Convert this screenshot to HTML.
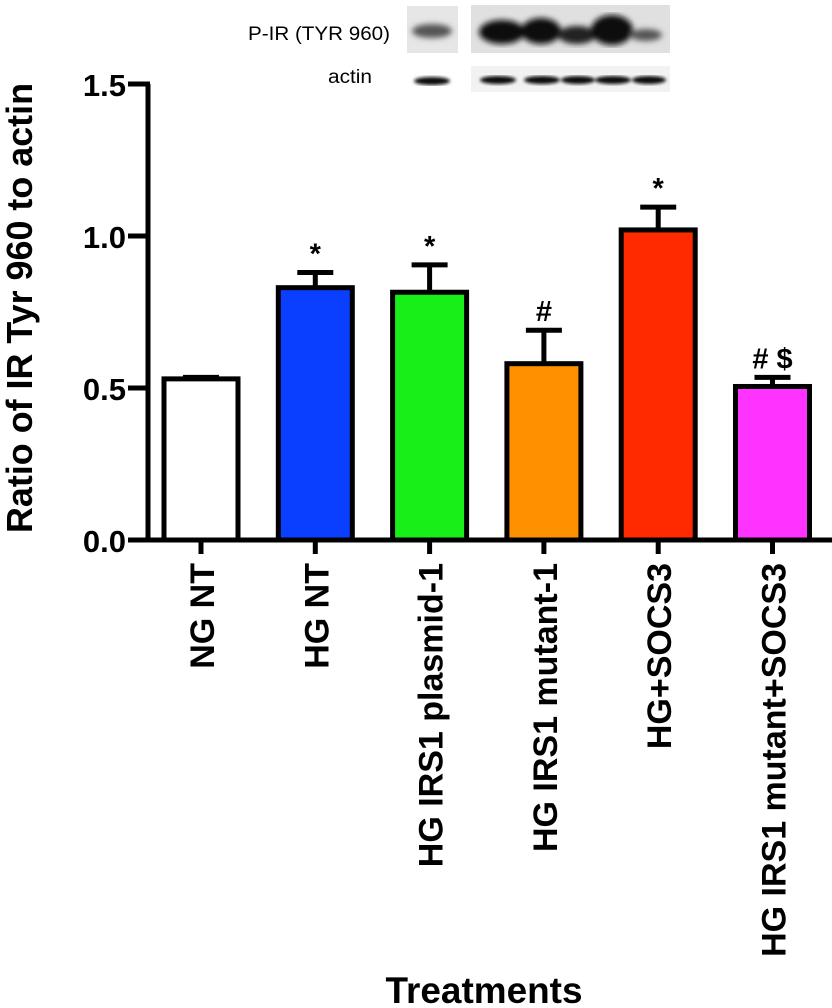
<!DOCTYPE html>
<html><head><meta charset="utf-8"><style>
body{margin:0;background:#fff;width:832px;height:1008px;overflow:hidden;font-family:"Liberation Sans",Arial,sans-serif}
svg{display:block}
</style></head><body>
<svg id="c" width="832" height="1008">
<defs>
<filter id="bl"><feGaussianBlur stdDeviation="3"/></filter>
<filter id="bl2"><feGaussianBlur stdDeviation="1.5"/></filter>
</defs>
<g>
<text x="248" y="40" font-size="19" textLength="142" lengthAdjust="spacingAndGlyphs">P-IR (TYR 960)</text>
<text x="328" y="83" font-size="19" textLength="44" lengthAdjust="spacingAndGlyphs">actin</text>
<rect x="407" y="6" width="51" height="47" fill="#e6e6e6"/>
<rect x="471" y="5" width="199" height="48" fill="#e0e0e0"/>
<rect x="471" y="66" width="199" height="26" fill="#f2f2f2"/>
<g filter="url(#bl)">
<ellipse cx="432" cy="31" rx="20" ry="7" fill="#555"/>
<ellipse cx="502" cy="32" rx="23" ry="12" fill="#111"/>
<ellipse cx="541" cy="31" rx="20" ry="13" fill="#111"/>
<ellipse cx="577" cy="35" rx="19" ry="9" fill="#222"/>
<ellipse cx="612" cy="30" rx="21" ry="15" fill="#0a0a0a"/>
<ellipse cx="646" cy="35" rx="16" ry="6" fill="#555"/>
</g>
<g filter="url(#bl2)">
<ellipse cx="432" cy="81" rx="18" ry="4" fill="#111"/>
<ellipse cx="498" cy="80" rx="18" ry="4" fill="#111"/>
<ellipse cx="542" cy="80" rx="18" ry="4" fill="#111"/>
<ellipse cx="578" cy="80" rx="17" ry="4" fill="#111"/>
<ellipse cx="613" cy="80" rx="18" ry="4" fill="#111"/>
<ellipse cx="649" cy="80" rx="17" ry="4" fill="#111"/>
</g>
</g>
<g id="plot"></g>
<text x="32" y="308" transform="rotate(-90 32 308)" text-anchor="middle" font-size="36" font-weight="bold" textLength="450" lengthAdjust="spacingAndGlyphs">Ratio of IR Tyr 960 to actin</text>
<text x="484" y="1003" text-anchor="middle" font-size="37" font-weight="bold" textLength="197" lengthAdjust="spacingAndGlyphs">Treatments</text>
</svg>
<script>
const categories=["NG NT","HG NT","HG IRS1 plasmid-1","HG IRS1 mutant-1","HG+SOCS3","HG IRS1 mutant+SOCS3"];
const values=[0.53,0.83,0.815,0.58,1.02,0.505];
const errors=[0.005,0.05,0.09,0.11,0.075,0.03];
const colors=["#ffffff","#0b3fff","#18ee18","#ff9000","#ff2a00","#ff33ff"];
const marks=["","*","*","#","*","# $"];
const yTicks=[0,0.5,1.0,1.5];
const yTickLabels=["0.0","0.5","1.0","1.5"];
const NS="http://www.w3.org/2000/svg";
const g=document.getElementById('plot');
const y0=540,pxPer=304,xStart=201,pitch=114.3,bw=74;
const Y=v=>y0-v*pxPer;
const X=i=>xStart+i*pitch;
function mk(t,a){const e=document.createElementNS(NS,t);for(const k in a)e.setAttribute(k,a[k]);g.appendChild(e);return e;}
categories.forEach((c,i)=>{
  const cx=X(i);
  const er=mk('line',{x1:cx,x2:cx,y1:Y(values[i]),y2:Y(values[i]+errors[i]),stroke:'#000','stroke-width':5});
  
  
  const cap=mk('line',{x1:cx-18,x2:cx+18,y1:Y(values[i]+errors[i]),y2:Y(values[i]+errors[i]),stroke:'#000','stroke-width':5});
  
  
  const r=mk('rect',{x:cx-bw/2,y:Y(values[i]),width:bw,height:y0-Y(values[i]),fill:colors[i],stroke:'#000','stroke-width':5});
  
  
  if(marks[i]){const t=mk('text',{x:cx,y:Y(values[i]+errors[i])-9,'text-anchor':'middle','font-size':29,'font-weight':'bold'});t.textContent=marks[i];
  
  }
  const tk=mk('line',{x1:cx,x2:cx,y1:y0,y2:y0+14,stroke:'#000','stroke-width':5});
  
  
  const lx=cx+13,ly=y0+23;
  const lb=mk('text',{x:lx,y:ly,transform:`rotate(-90 ${lx} ${ly})`,'text-anchor':'end','font-size':34,'font-weight':'bold'});
  lb.textContent=c;
  
  
});
const ax=mk('line',{x1:148,x2:148,y1:Y(1.5),y2:y0+2.5,stroke:'#000','stroke-width':5});


const xa=mk('line',{x1:128,x2:832,y1:y0,y2:y0,stroke:'#000','stroke-width':5});


yTicks.forEach((v,i)=>{
  const t=mk('line',{x1:128,x2:150,y1:Y(v),y2:Y(v),stroke:'#000','stroke-width':5});
  
  
  const l=mk('text',{x:126,y:Y(v)+12,'text-anchor':'end','font-size':31,'font-weight':'bold'});
  l.textContent=yTickLabels[i];
  
  
});
</script>
</body></html>
